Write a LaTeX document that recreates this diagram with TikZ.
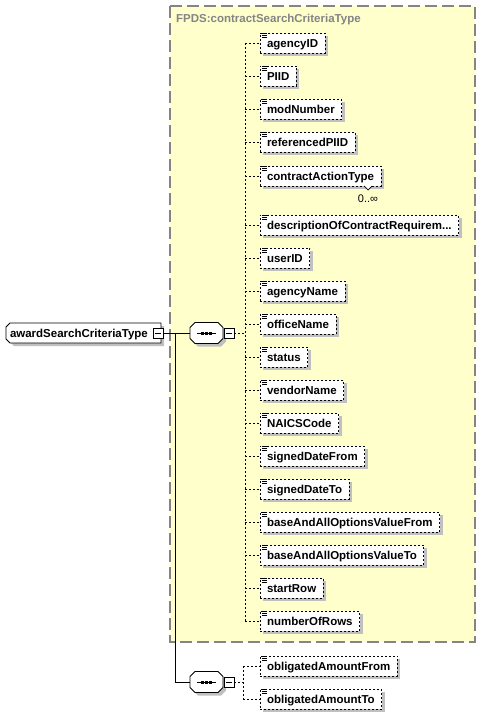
\documentclass[tikz,border=0pt]{standalone}
\usepackage{fontspec}
\setmainfont{Liberation Sans}
\usetikzlibrary{shadows}
\definecolor{ybg}{HTML}{FFFFCC}
\definecolor{shad}{HTML}{C0C0C0}
\definecolor{bord}{HTML}{848484}
\newcommand\elm[4]{%
  \node[elem] (#1) at (260,#3) {#4};
  \foreach \k in {0.5,2.5,4.5} \draw[line width=0.8pt] ([shift={(2,\k)}]#1.north west) -- ++(5,0);
  \draw[conn] (#2 |- #1.west) -- (#1.west);
}
\newcommand\compo[3]{%
  \node[inner sep=0pt, outer sep=0pt, minimum width=33pt, minimum height=21pt] (#1) at (#2,#3) {};
  \fill[shad] ([shift={(8,3)}]#1.north west) -- ([shift={(-2,3)}]#1.north east) -- ([shift={(3,8)}]#1.north east)
     -- ([shift={(3,-2)}]#1.south east) -- ([shift={(-2,3)}]#1.south east) -- ([shift={(8,3)}]#1.south west)
     -- ([shift={(3,-2)}]#1.south west) -- ([shift={(3,8)}]#1.north west) -- cycle;
  \draw[fill=white, line width=0.8pt] ([xshift=5pt]#1.north west) -- ([xshift=-5pt]#1.north east) -- ([yshift=-5pt]#1.north east)
     -- ([yshift=5pt]#1.south east) -- ([xshift=-5pt]#1.south east) -- ([xshift=5pt]#1.south west)
     -- ([yshift=5pt]#1.south west) -- ([yshift=-5pt]#1.north west) -- cycle;
  \draw[line width=0.9pt] ([xshift=7pt]#1.west) -- ([xshift=-7pt]#1.east);
  \foreach \d in {-4,0,4} \fill ([shift={(\d-1.5,-1.5)}]#1.center) rectangle ++(3,3);
}
\begin{document}
\begin{tikzpicture}[x=1pt,y=-1pt,
  elem/.style={draw, dash pattern=on 2pt off 2pt, line width=0.9pt, fill=white, minimum height=20pt,
    inner xsep=7pt, inner ysep=0pt, outer sep=0pt, anchor=west, text height=8pt, text depth=0pt,
    font=\fontsize{11.5}{13}\selectfont\bfseries,
    drop shadow={shadow xshift=3pt, shadow yshift=-3pt, opacity=1, fill=shad}},
  conn/.style={dash pattern=on 2pt off 2pt, line width=0.9pt},
  minus/.style={draw, fill=white, minimum size=10pt, inner sep=0pt, outer sep=0pt, line width=0.8pt},
  solidc/.style={line width=0.9pt}]
\useasboundingbox (0,0) rectangle (480,715);
% group box
\draw[fill=ybg, draw=bord, line width=1.3pt, dash pattern=on 12pt off 5pt] (170,6) rectangle (475,642);
\node[anchor=base west, inner sep=0pt, text=bord, font=\fontsize{11.5}{13}\selectfont\bfseries] (title) at (176,22) {FPDS:contractSearchCriteriaType};
% root element
\fill[shad] (12,326) -- (164,326) -- (164,346) -- (14,346) -- (9,341) -- cycle;
\draw[fill=white, line width=0.8pt] (10,323) -- (161,323) -- (161,343) -- (10,343) -- (6,339) -- (6,327) -- cycle;
\node[anchor=west, inner xsep=4pt, inner ysep=0pt, outer sep=0pt, minimum height=20pt, text width=147pt, align=left,
  text height=8pt, text depth=0pt, font=\fontsize{11.5}{13}\selectfont\bfseries] (root) at (6,333) {awardSearchCriteriaType};
% compositors
\compo{c1}{206.5}{333}
\compo{c2}{206.5}{682}
\coordinate (j) at (175,333);
\draw[solidc] (root.east) -- (c1.west);
\draw[solidc] (j) -- (j |- c2.west) -- (c2.west);
\node[minus] (mr) at (158,333) {};
\draw ([xshift=2pt]mr.west) -- ([xshift=-2pt]mr.east);
\node[minus] (m1) at (229,333) {};
\draw ([xshift=2pt]m1.west) -- ([xshift=-2pt]m1.east);
\node[minus] (m2) at (229,682) {};
\draw ([xshift=2pt]m2.west) -- ([xshift=-2pt]m2.east);
\coordinate (s1) at (245,333);
\coordinate (s2) at (243,682);
\draw[conn] (m1.east) -- (s1);
\draw[conn] (m2.east) -- (s2);
% elements group 1
\elm{agencyID}{s1}{43}{agencyID}
\elm{PIID}{s1}{76}{PIID}
\elm{modNumber}{s1}{109}{modNumber}
\elm{referencedPIID}{s1}{142}{referencedPIID}
\elm{cat}{s1}{176}{contractActionType}
\elm{descr}{s1}{225}{descriptionOfContractRequirem...}
\elm{userID}{s1}{258}{userID}
\elm{agencyName}{s1}{291}{agencyName}
\elm{officeName}{s1}{324}{officeName}
\elm{status}{s1}{357}{status}
\elm{vendorName}{s1}{390}{vendorName}
\elm{NAICSCode}{s1}{423}{NAICSCode}
\elm{sdf}{s1}{456}{signedDateFrom}
\elm{sdt}{s1}{489}{signedDateTo}
\elm{bavf}{s1}{522}{baseAndAllOptionsValueFrom}
\elm{bavt}{s1}{555}{baseAndAllOptionsValueTo}
\elm{startRow}{s1}{588}{startRow}
\elm{numberOfRows}{s1}{621}{numberOfRows}
\draw[conn] (s1 |- agencyID.west) -- (s1 |- numberOfRows.west);
% occurrence on contractActionType
\draw[fill=white, line width=0.7pt] ([xshift=-17pt]cat.south east) -- ++(4,4) -- ++(4,-4);
\node[anchor=base, inner sep=0pt, font=\fontsize{11}{13}\selectfont] (occ) at (368,202) {0..∞};
% elements group 2
\elm{oaf}{s2}{666}{obligatedAmountFrom}
\elm{oat}{s2}{699}{obligatedAmountTo}
\draw[conn] (s2 |- oaf.west) -- (s2 |- oat.west);
\end{tikzpicture}
\end{document}
